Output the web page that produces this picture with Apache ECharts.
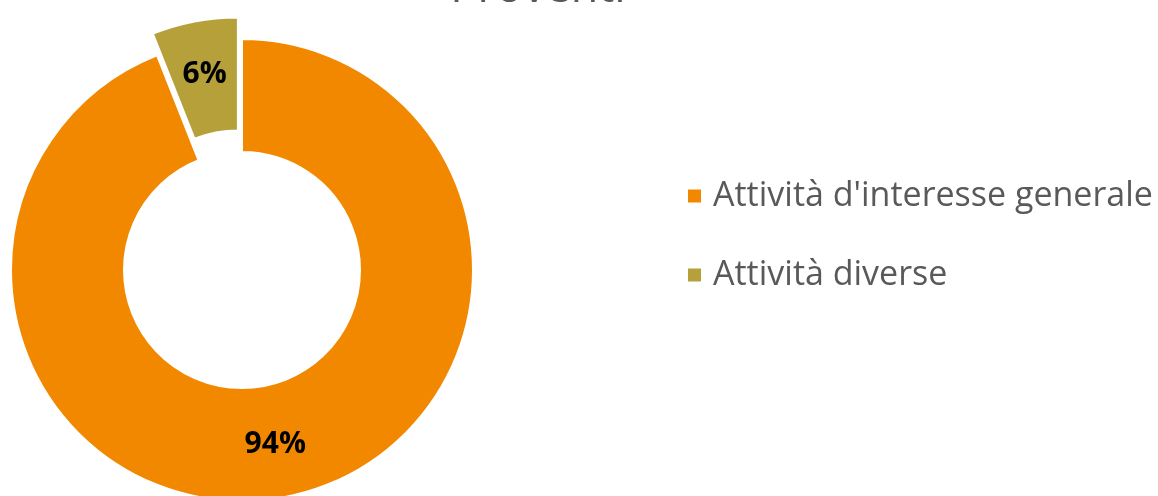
<!DOCTYPE html>
<html><head><meta charset="utf-8">
<script src="https://cdn.jsdelivr.net/npm/echarts@6/dist/echarts.min.js"></script>
<style>html,body{margin:0;padding:0;background:#fff}#c{width:1158px;height:496px}</style>
</head><body><div id="c"></div>
<script>
const titleText = "Proventi";
const categories = ["Attività d'interesse generale", "Attività diverse"];
const values = [94, 6];
const colors = ["#F28800", "#B6A03A"];

const chart = echarts.init(document.getElementById('c'));
chart.setOption({
  animation: false,
  title: {
    text: titleText, left: 533, textAlign: 'center', top: -38,
    textStyle: { fontFamily: 'Open Sans', fontSize: 45, fontWeight: 'normal', color: '#595959' }
  },
  legend: {
    orient: 'vertical', left: 681, top: 171,
    itemWidth: 15, itemHeight: 15, itemGap: 39, icon: 'rect',
    textStyle: { fontFamily: 'Open Sans', fontSize: 34, lineHeight: 40, color: '#595959', padding: [0, 0, 0, 6] },
    data: categories
  },
  series: [{
    type: 'pie', center: [242, 270], radius: [118, 231],
    startAngle: 90, clockwise: true, selectedOffset: 22,
    selectedMode: 'multiple',
    itemStyle: { borderColor: '#fff', borderWidth: 2 },
    label: { show: true, position: 'inside', formatter: '{d}%',
      fontFamily: 'Open Sans', fontSize: 30, fontWeight: 'bold', color: '#000' },
    labelLine: { show: false },
    emphasis: { disabled: true },
    data: categories.map((n, i) => ({ name: n, value: values[i], selected: i === 1, itemStyle: { color: colors[i] } }))
  }]
});
</script></body></html>
